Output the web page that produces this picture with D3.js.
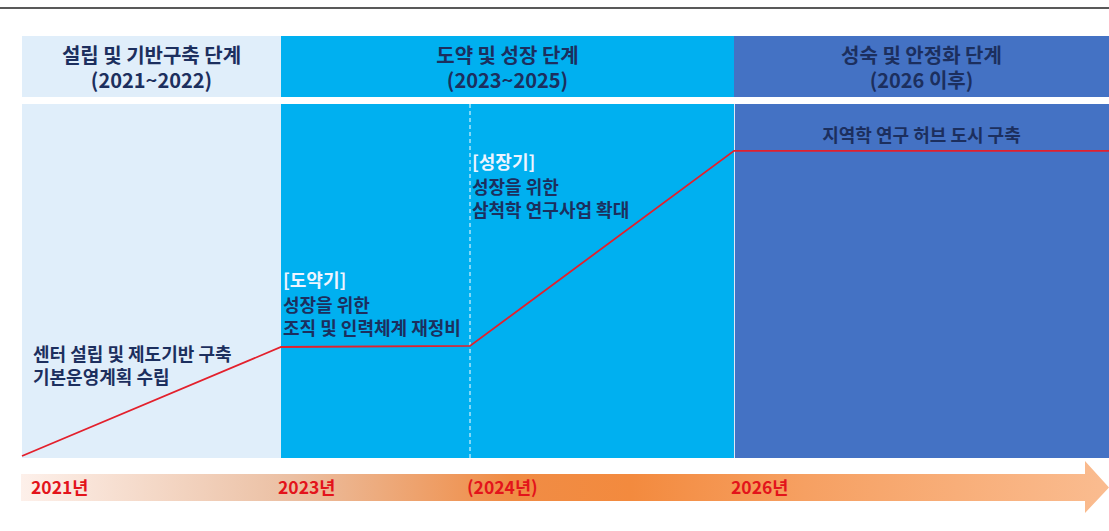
<!DOCTYPE html>
<html>
<head>
<meta charset="utf-8">
<script src="https://cdn.jsdelivr.net/npm/d3@7"></script>
<style>
  html, body { margin: 0; padding: 0; background: #fff; }
  svg { display: block; }
  text { font-family: "Noto Sans CJK KR", "Noto Sans", sans-serif; font-weight: 700; }
</style>
</head>
<body>
<svg id="chart"></svg>
<script>
'use strict'

const d3 = window.d3
const width = 1109
const height = 531

// phases
const phaseNames = ['설립 및 기반구축 단계', '도약 및 성장 단계', '성숙 및 안정화 단계']
const phaseYears = ['(2021~2022)', '(2023~2025)', '(2026 이후)']
const phaseStart = [2021, 2023, 2026]
const phaseEnd = [2023, 2026, 2029]
const phaseColors = ['#e0eefa', '#00b0f0', '#4472c4']

// growth line
const milestoneYears = [2021, 2023, 2024, 2026, 2029]
const growthLevel = [0, 1, 1.01, 2.8, 2.8]

// year labels on the arrow
const tickYears = [2021, 2023, 2024, 2026]
const tickLabels = ['2021년', '2023년', '(2024년)', '2026년']

// notes inside the body
const noteTitles = ['', '[도약기]', '[성장기]', '']
const noteLines = [
  ['센터 설립 및 제도기반 구축', '기본운영계획 수립'],
  ['성장을 위한', '조직 및 인력체계 재정비'],
  ['성장을 위한', '삼척학 연구사업 확대'],
  ['지역학 연구 허브 도시 구축']
]

const frame = { header: 36, headerH: 61, body: 104, bodyBottom: 458 }
const navy = '#1c2f5e'

const x = d3.scaleLinear()
  .domain(milestoneYears)
  .range([22, 281, 470, 734, 1109])

const y = d3.scaleLinear()
  .domain([0, 3])
  .range([456, 129])

const svg = d3.select('#chart').attr('width', width).attr('height', height)

// top rule
svg.append('line')
  .attr('x1', 0).attr('x2', width).attr('y1', 8).attr('y2', 8)
  .attr('stroke', '#222').attr('stroke-width', 1.5)

// header boxes
const header = svg.selectAll('g.header')
  .data(phaseNames)
  .enter().append('g').attr('class', 'header')

header.append('rect')
  .attr('x', (d, i) => x(phaseStart[i]))
  .attr('width', (d, i) => x(phaseEnd[i]) - x(phaseStart[i]))
  .attr('y', frame.header)
  .attr('height', frame.headerH)
  .attr('fill', (d, i) => phaseColors[i])

const headerText = header.append('text')
  .attr('text-anchor', 'middle')
  .attr('font-size', 20)
  .attr('fill', navy)

headerText.append('tspan')
  .attr('x', (d, i) => (x(phaseStart[i]) + x(phaseEnd[i])) / 2)
  .attr('y', 55.5)
  .attr('dy', '0.35em')
  .text((d) => d)

headerText.append('tspan')
  .attr('x', (d, i) => (x(phaseStart[i]) + x(phaseEnd[i])) / 2)
  .attr('y', 81)
  .attr('dy', '0.35em')
  .text((d, i) => phaseYears[i])

// body boxes
svg.selectAll('rect.body')
  .data(phaseNames)
  .enter().append('rect').attr('class', 'body')
  .attr('x', (d, i) => x(phaseStart[i]))
  .attr('width', (d, i) => x(phaseEnd[i]) - x(phaseStart[i]))
  .attr('y', frame.body)
  .attr('height', frame.bodyBottom - frame.body)
  .attr('fill', (d, i) => phaseColors[i])

// separators
svg.append('line')
  .attr('x1', x(2024)).attr('x2', x(2024))
  .attr('y1', frame.body).attr('y2', frame.bodyBottom)
  .attr('stroke', '#fff').attr('stroke-width', 1)
  .attr('stroke-dasharray', '4,3')

svg.append('line')
  .attr('x1', x(2026) + 0.5).attr('x2', x(2026) + 0.5)
  .attr('y1', frame.body).attr('y2', frame.bodyBottom)
  .attr('stroke', '#dfe8f6').attr('stroke-width', 1)

// notes
const notePos = [
  { x: x(2021) + 11, y: 355, anchor: 'start' },
  { x: x(2023) + 2, y: 281, anchor: 'start' },
  { x: x(2024) + 2, y: 163, anchor: 'start' },
  { x: (x(2026) + x(2029)) / 2, y: 136, anchor: 'middle' }
]

noteLines.forEach((lines, i) => {
  const p = notePos[i]
  const t = svg.append('text')
    .attr('text-anchor', p.anchor)
    .attr('font-size', 18)
    .attr('fill', navy)
  let yy = p.y
  if (noteTitles[i]) {
    t.append('tspan')
      .attr('x', p.x).attr('y', yy).attr('dy', '0.35em')
      .attr('fill', '#eef4ff')
      .text(noteTitles[i])
    yy += 25
  }
  lines.forEach((s, j) => {
    t.append('tspan')
      .attr('x', p.x).attr('y', yy + j * 23).attr('dy', '0.35em')
      .text(s)
  })
})

// growth line
const line = d3.line()
  .x((d, i) => x(milestoneYears[i]))
  .y((d) => y(d))

svg.append('path')
  .datum(growthLevel)
  .attr('d', line)
  .attr('fill', 'none')
  .attr('stroke', '#e3202c')
  .attr('stroke-width', 1.8)

// timeline arrow
const defs = svg.append('defs')
const grad = defs.append('linearGradient')
  .attr('id', 'arrowGrad')
  .attr('x1', '0%').attr('x2', '100%')
grad.append('stop').attr('offset', '0%').attr('stop-color', '#fdf0ea')
grad.append('stop').attr('offset', '25%').attr('stop-color', '#ebbfa2')
grad.append('stop').attr('offset', '45%').attr('stop-color', '#f08c45')
grad.append('stop').attr('offset', '56%').attr('stop-color', '#f38a3e')
grad.append('stop').attr('offset', '72%').attr('stop-color', '#f6a062')
grad.append('stop').attr('offset', '100%').attr('stop-color', '#fabc90')

const ax0 = 21
const ax1 = 1085
const axTip = width
const band = [474, 501]
const head = [461, 513]
const arrowPath = d3.path()
arrowPath.moveTo(ax0, band[0])
arrowPath.lineTo(ax1, band[0])
arrowPath.lineTo(ax1, head[0])
arrowPath.lineTo(axTip, (band[0] + band[1]) / 2)
arrowPath.lineTo(ax1, head[1])
arrowPath.lineTo(ax1, band[1])
arrowPath.lineTo(ax0, band[1])
arrowPath.closePath()

svg.append('path')
  .attr('d', arrowPath.toString())
  .attr('fill', 'url(#arrowGrad)')

svg.selectAll('text.tick')
  .data(tickYears)
  .enter().append('text').attr('class', 'tick')
  .attr('x', (d, i) => i === 0 ? x(d) + 9 : x(d) - 3)
  .attr('y', 487.5)
  .attr('dy', '0.35em')
  .attr('font-size', 17.5)
  .attr('fill', '#e3141b')
  .text((d, i) => tickLabels[i])
</script>
</body>
</html>
